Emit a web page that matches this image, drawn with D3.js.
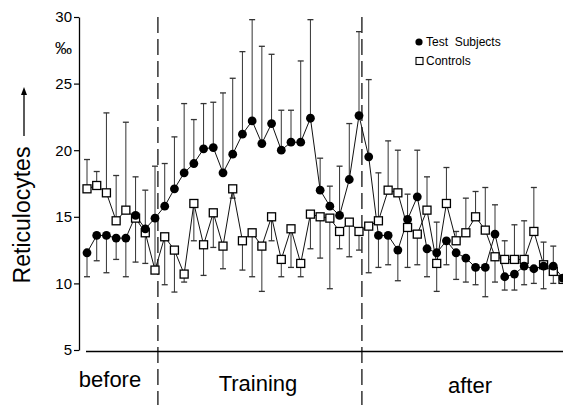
<!DOCTYPE html>
<html><head><meta charset="utf-8">
<script src="https://cdn.jsdelivr.net/npm/d3@7"></script>
<style>
body{margin:0;background:#fff}
svg{display:block}
text{font-family:"Liberation Sans",Arial,Helvetica,sans-serif;fill:#000}
</style>
</head><body>
<svg id="c" width="563" height="405"></svg>
<script>
// ---- data ----
const days = d3.range(50); // measurement index
const testValues = [12.3,13.6,13.6,13.4,13.4,15.1,14.1,14.9,15.8,17.1,
  18.3,19.0,20.1,20.2,18.3,19.7,21.2,22.2,20.5,22.0,
  20.0,20.6,20.6,22.4,17.0,15.8,15.1,17.8,22.6,19.5,
  13.6,13.6,12.5,14.8,16.5,12.6,12.3,13.2,12.3,11.9,
  11.2,11.2,13.7,10.5,10.7,11.3,11.1,11.3,11.3,10.4];
const testBarEnds = [10.5,11.7,10.8,11.8,10.5,11.6,11.5,null,19.0,21.0,
  23.5,22.3,23.5,23.6,24.3,25.4,27.4,29.8,27.8,27.2,
  23.0,23.0,26.7,29.8,19.4,17.3,18.8,22.0,28.9,25.3,
  11.2,11.4,10.2,16.7,20.0,10.5,14.6,11.4,10.3,10.1,
  9.9,9.0,15.9,9.5,9.5,9.9,10.0,9.6,12.8,null];
const controlValues = [17.1,17.35,16.8,14.7,15.5,14.9,13.8,11.0,13.5,12.5,
  10.7,16.0,12.9,15.3,12.8,17.1,13.2,13.8,12.8,15.0,
  11.8,14.1,11.5,15.2,15.0,14.9,13.9,14.6,13.9,14.3,
  14.7,17.0,16.8,14.2,13.7,15.5,11.5,16.0,13.2,13.8,
  15.0,14.0,12.0,11.8,11.8,11.8,13.9,11.4,10.9,10.3];
const controlBarEnds = [19.3,18.4,22.8,18.1,22.1,18.0,17.0,18.8,9.9,9.35,
  10.1,13.2,10.6,12.7,11.1,16.4,11.0,10.5,9.4,13.2,
  10.5,11.2,10.5,12.6,11.9,9.6,12.6,12.0,12.5,10.8,
  18.3,20.7,20.0,11.2,11.4,18.0,9.4,18.7,13.9,16.4,
  16.9,17.2,10.1,13.2,14.4,14.7,17.2,13.1,10.0,null];
const yTicks = [5,10,15,20,25,30];
const periodBounds = [7.3, 28.3];
const periodLabels = ["before","Training","after"];
const legendLabels = ["Test  Subjects","Controls"];
const yTitle = "Reticulocytes";
const unitLabel = "‰";

// ---- drawing ----
const svg = d3.select("#c");
const x = d3.scaleLinear().domain([0,49]).range([87,563]);
const y = d3.scaleLinear().domain([5,30]).range([350,17]);

// y axis
const axis = d3.axisLeft(y).tickValues(yTicks).tickSize(5).tickSizeOuter(0).tickPadding(2);
const gA = svg.append("g").attr("transform","translate(79,0)").call(axis);
gA.select(".domain").attr("stroke","#000").attr("stroke-width",1.3);
gA.selectAll(".tick line").attr("stroke","#000").attr("stroke-width",1.2);
gA.selectAll(".tick text").attr("font-size",15).attr("font-family","Liberation Sans, Arial, sans-serif").attr("fill","#000");

// unit
svg.append("text").attr("x",72).attr("y",54).attr("text-anchor","end")
  .attr("font-size",17).text(unitLabel);

// y title with arrow
svg.append("text").attr("transform","translate(30,215) rotate(-90)")
  .attr("text-anchor","middle").attr("font-size",23).text(yTitle);
svg.append("line").attr("x1",24).attr("x2",24).attr("y1",136).attr("y2",92)
  .attr("stroke","#000").attr("stroke-width",1.3);
svg.append("path").attr("d","M24,87 L21,95 L27,95 Z").attr("fill","#000");

// baseline
svg.append("line").attr("x1",86).attr("x2",563).attr("y1",y(5)+1.5).attr("y2",y(5)+1.5)
  .attr("stroke","#000").attr("stroke-width",1.6);

// period dashed lines
svg.selectAll("line.period").data(periodBounds).join("line").attr("class","period")
  .attr("x1",d=>x(d)).attr("x2",d=>x(d)).attr("y1",17).attr("y2",405)
  .attr("stroke","#000").attr("stroke-width",1.2).attr("stroke-dasharray","16,6");

// period labels
const labelPos = [{cx:110,by:387},{cx:258,by:391},{cx:470,by:393}];
svg.selectAll("text.period").data(periodLabels).join("text").attr("class","period")
  .attr("x",(d,i)=>labelPos[i].cx).attr("y",(d,i)=>labelPos[i].by)
  .attr("text-anchor","middle").attr("font-size",22).text(d=>d);

// error bars
function bars(vals, ends, cls){
  const data = days.map(i=>({i, v:vals[i], e:ends[i]})).filter(d=>d.e!=null);
  const g = svg.append("g").attr("class",cls).attr("stroke","#333").attr("stroke-width",1);
  g.selectAll("line.v").data(data).join("line").attr("class","v")
    .attr("x1",d=>x(d.i)).attr("x2",d=>x(d.i)).attr("y1",d=>y(d.v)).attr("y2",d=>y(d.e));
  g.selectAll("line.c").data(data).join("line").attr("class","c")
    .attr("x1",d=>x(d.i)-3).attr("x2",d=>x(d.i)+3).attr("y1",d=>y(d.e)).attr("y2",d=>y(d.e))
    .attr("stroke-width",1.3);
}
bars(testValues, testBarEnds, "tbars");
bars(controlValues, controlBarEnds, "cbars");

// lines
const line = d3.line().x((d,i)=>x(i)).y(d=>y(d));
svg.append("path").attr("d",line(controlValues)).attr("fill","none").attr("stroke","#111").attr("stroke-width",1);
svg.append("path").attr("d",line(testValues)).attr("fill","none").attr("stroke","#111").attr("stroke-width",1);

// markers
svg.selectAll("rect.ctrl").data(controlValues).join("rect").attr("class","ctrl")
  .attr("x",(d,i)=>x(i)-4).attr("y",d=>y(d)-4).attr("width",8).attr("height",8)
  .attr("fill","#fff").attr("stroke","#000").attr("stroke-width",1.3);
svg.selectAll("circle.test").data(testValues).join("circle").attr("class","test")
  .attr("cx",(d,i)=>x(i)).attr("cy",d=>y(d)).attr("r",4.4).attr("fill","#000");

// legend
svg.append("circle").attr("cx",419).attr("cy",42).attr("r",3.6).attr("fill","#000");
svg.append("rect").attr("x",416).attr("y",57.5).attr("width",7).attr("height",7)
  .attr("fill","#fff").attr("stroke","#000").attr("stroke-width",1.1);
svg.selectAll("text.leg").data(legendLabels).join("text").attr("class","leg")
  .attr("x",426).attr("y",(d,i)=>46+i*18.5).attr("font-size",12)
  .style("white-space","pre").text(d=>d);
</script>
</body></html>
